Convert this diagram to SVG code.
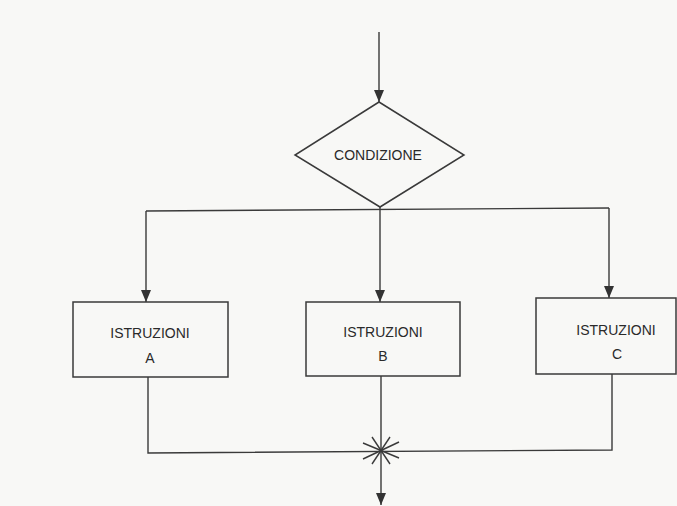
<svg xmlns="http://www.w3.org/2000/svg" width="677" height="506" viewBox="0 0 677 506">
  <defs>
    <marker id="arr" viewBox="0 0 12 10" refX="12" refY="5" markerWidth="12" markerHeight="10" markerUnits="userSpaceOnUse" orient="auto">
      <path d="M0,0 L12,5 L0,10 Z" fill="#333"/>
    </marker>
    <style>
      .shape { fill: none; stroke: #3a3a3a; stroke-width: 1.5; }
      .line { fill: none; stroke: #3a3a3a; stroke-width: 1.4; }
      .lbl { font-family: "Liberation Sans", Arial, sans-serif; font-size: 14px; fill: #2a2a2a; text-anchor: middle; }
    </style>
  </defs>
  <rect width="677" height="506" fill="#f8f8f6"/>

  <g id="connectors">
    <path class="line" d="M379,32 V102" marker-end="url(#arr)"/>
    <path class="line" d="M146,211 L609,208"/>
    <path class="line" d="M380,207 V302" marker-end="url(#arr)"/>
    <path class="line" d="M146,211 V302" marker-end="url(#arr)"/>
    <path class="line" d="M609,208 V298" marker-end="url(#arr)"/>
    <path class="line" d="M148,377 V453 L612,450 V374"/>
    <path class="line" d="M381,376 V505" marker-end="url(#arr)"/>
    <g id="junction" class="line">
      <line x1="363" y1="443" x2="399" y2="458"/>
      <line x1="363" y1="459" x2="399" y2="442"/>
      <line x1="372" y1="437" x2="390" y2="464"/>
      <line x1="390" y1="437" x2="372" y2="464"/>
    </g>
  </g>

  <g id="condizione">
    <polygon class="shape" points="379,102 464,155 380,207 295,155"/>
    <text class="lbl" x="378" y="160">CONDIZIONE</text>
  </g>

  <g id="istruzioni-a">
    <rect class="shape" x="73" y="302" width="155" height="75"/>
    <text class="lbl" x="150" y="338">ISTRUZIONI</text>
    <text class="lbl" x="150" y="363">A</text>
  </g>

  <g id="istruzioni-b">
    <rect class="shape" x="306" y="302" width="154" height="74"/>
    <text class="lbl" x="383" y="337">ISTRUZIONI</text>
    <text class="lbl" x="383" y="361">B</text>
  </g>

  <g id="istruzioni-c">
    <rect class="shape" x="536" y="298" width="140" height="76"/>
    <text class="lbl" x="616" y="335">ISTRUZIONI</text>
    <text class="lbl" x="617" y="359">C</text>
  </g>
</svg>
